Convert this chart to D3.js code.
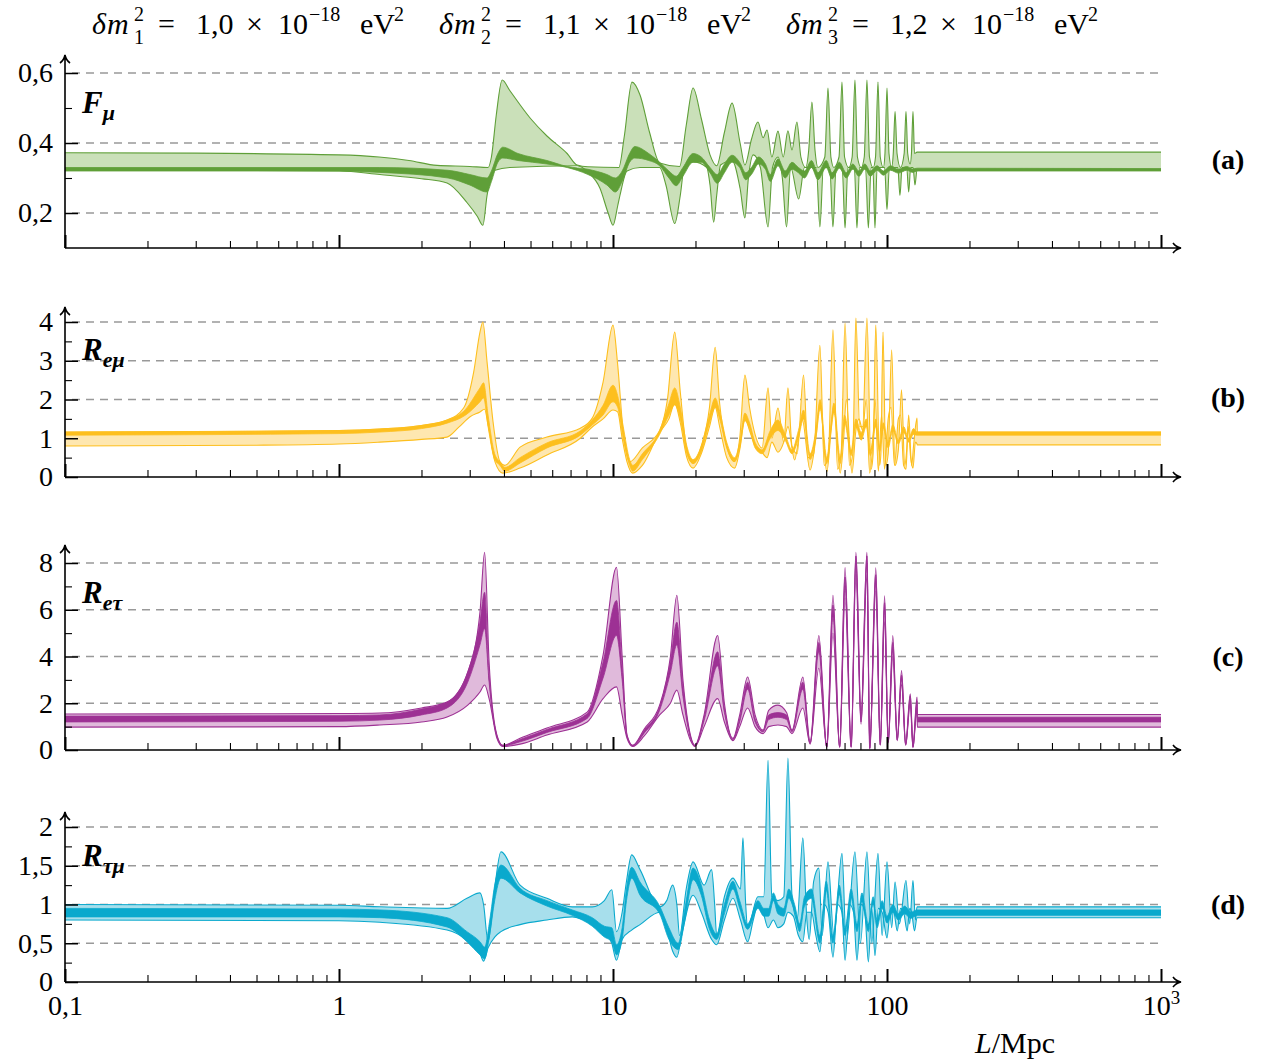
<!DOCTYPE html>
<html>
<head>
<meta charset="utf-8">
<script src="https://cdn.jsdelivr.net/npm/d3@7"></script>
<style>
  body { margin: 0; background: #fff; }
  text { font-family: 'Liberation Serif', 'Times New Roman', serif; fill: #000; }
</style>
</head>
<body>
<svg id="chart" width="1262" height="1064"></svg>
<script>
// x axis
var xMajor = [0.1, 1, 10, 100, 1000]
var xTickLabels = ['0,1', '1', '10', '100', '10']

// y ticks per panel
var aTicks = [0.2, 0.4, 0.6], aMinor = [0.3, 0.5]
var bTicks = [0, 1, 2, 3, 4], bMinor = [0.5, 1.5, 2.5, 3.5]
var cTicks = [0, 2, 4, 6, 8], cMinor = [1, 3, 5, 7]
var dTicks = [0, 0.5, 1, 1.5, 2], dMinor = [0.25, 0.75, 1.25, 1.75]

// (a) F_mu  [L in Mpc, value]
var aOutHi = [[0.1,0.372],[0.3,0.371],[1,0.366],[1.4,0.36],[1.8,0.35],[2.28,0.336],[3.0,0.333],[3.5,0.33],[3.6,0.36],[3.75,0.48],[3.94,0.58],[4.2,0.55],[5.0,0.47],[5.74,0.42],[6.8,0.37],[7.4,0.337],[8.1,0.332],[10.5,0.33],[11.0,0.42],[11.73,0.574],[12.55,0.537],[13.6,0.43],[14.8,0.343],[17.5,0.333],[18.5,0.45],[19.6,0.557],[21.0,0.47],[22.6,0.366],[23.9,0.335],[25.5,0.43],[27.2,0.514],[29.1,0.40],[30.3,0.337],[32.0,0.41],[33.8,0.46],[35.3,0.415],[36.5,0.437],[38.0,0.36],[40.0,0.434],[41.8,0.36],[43.5,0.435],[45.0,0.38],[46.9,0.46],[48.5,0.36],[50.5,0.33],[51.8,0.38],[53.2,0.517],[54.6,0.38],[56,0.33],[59.3,0.36],[60.9,0.557],[62.4,0.36],[64,0.33],[66.8,0.36],[68.5,0.574],[70,0.36],[72.5,0.33],[74.6,0.36],[76.4,0.58],[78,0.36],[80.5,0.33],[82.6,0.36],[84.5,0.58],[86.3,0.36],[89,0.33],[90.8,0.36],[92.7,0.574],[94.5,0.36],[97,0.33],[98.3,0.37],[100,0.557],[101.7,0.37],[104,0.33],[105.4,0.37],[107,0.49],[108.8,0.37],[112,0.33],[115.5,0.37],[117.3,0.49],[119,0.37],[121.5,0.34],[122.8,0.37],[124.4,0.49],[126,0.37],[128.7,0.374],[1000,0.374]]
var aOutLo = [[0.1,0.325],[1,0.32],[1.41,0.31],[2.0,0.298],[2.48,0.286],[2.93,0.23],[3.2,0.19],[3.35,0.165],[3.47,0.25],[3.6,0.31],[3.71,0.322],[4.2,0.33],[7.4,0.335],[8.1,0.317],[8.97,0.27],[9.6,0.2],[10.0,0.165],[10.4,0.22],[10.6,0.25],[11.25,0.32],[12.55,0.33],[14.8,0.33],[15.6,0.28],[16.8,0.17],[17.6,0.25],[18.2,0.33],[19.6,0.346],[22.0,0.33],[22.6,0.28],[23.3,0.174],[23.9,0.25],[24.7,0.337],[27.2,0.35],[29.1,0.27],[30.3,0.186],[31.2,0.3],[32.5,0.366],[34.5,0.33],[36.8,0.16],[38.2,0.33],[40,0.36],[41.5,0.3],[43.0,0.16],[44.5,0.33],[47.6,0.24],[50,0.33],[55.2,0.33],[56.9,0.16],[58.6,0.33],[61.8,0.33],[63.5,0.16],[65.2,0.33],[68.6,0.33],[70.3,0.157],[72,0.33],[76,0.33],[77.7,0.157],[79.4,0.33],[83.5,0.33],[85.5,0.157],[87.5,0.33],[88.8,0.33],[90.4,0.157],[92,0.33],[98,0.33],[100,0.21],[102,0.33],[109.5,0.33],[111.5,0.25],[113.5,0.33],[118,0.33],[120,0.26],[122,0.33],[124.5,0.33],[126.5,0.28],[128.7,0.323],[1000,0.323]]
var aInHi = [[0.1,0.33],[1,0.33],[1.41,0.33],[2.5,0.322],[3.0,0.31],[3.47,0.30],[3.6,0.32],[3.8,0.37],[3.96,0.388],[4.5,0.37],[5.74,0.35],[6.8,0.333],[8.1,0.325],[9.5,0.31],[10.2,0.30],[10.8,0.32],[11.5,0.37],[12.0,0.39],[13.5,0.37],[14.8,0.345],[16,0.32],[17,0.305],[18,0.33],[19.6,0.37],[21,0.36],[22.6,0.33],[24,0.31],[25.5,0.34],[27.2,0.365],[29,0.345],[30.5,0.315],[32,0.33],[34,0.36],[36,0.34],[37.5,0.31],[40,0.355],[42.5,0.32],[45,0.345],[47.5,0.33],[50,0.32],[53,0.35],[56,0.315],[60,0.35],[63,0.315],[67,0.345],[71,0.315],[75,0.34],[79,0.32],[83,0.34],[87,0.32],[92,0.335],[97,0.32],[103,0.335],[110,0.325],[118,0.333],[124,0.326],[128.7,0.328],[1000,0.327]]
var aInLo = [[0.1,0.32],[1,0.32],[1.41,0.316],[2.5,0.30],[3.0,0.28],[3.47,0.26],[3.6,0.29],[3.8,0.345],[3.96,0.357],[4.5,0.35],[5.74,0.34],[6.8,0.33],[8.1,0.31],[9.5,0.28],[10.2,0.26],[10.8,0.29],[11.5,0.345],[12.0,0.357],[13.5,0.35],[14.8,0.335],[16,0.30],[17,0.278],[18,0.305],[19.6,0.345],[21,0.345],[22.6,0.315],[24,0.285],[25.5,0.315],[27.2,0.345],[29,0.33],[30.5,0.295],[32,0.31],[34,0.34],[36,0.325],[37.5,0.29],[40,0.335],[42.5,0.30],[45,0.325],[47.5,0.315],[50,0.30],[53,0.33],[56,0.295],[60,0.33],[63,0.297],[67,0.328],[71,0.3],[75,0.325],[79,0.305],[83,0.325],[87,0.305],[92,0.322],[97,0.308],[103,0.322],[110,0.314],[118,0.322],[124,0.316],[128.7,0.32],[1000,0.32]]

// (b) R_emu
var bOutHi = [[0.1,1.16],[0.5,1.18],[1,1.2],[1.41,1.24],[2.0,1.33],[2.48,1.47],[2.85,1.78],[3.1,2.7],[3.27,3.74],[3.35,4.0],[3.47,2.97],[3.65,1.42],[3.87,0.39],[4.03,0.3],[4.58,0.77],[5.74,1.03],[7.6,1.26],[8.4,1.52],[9.2,2.45],[10.0,3.92],[10.4,2.9],[10.9,1.16],[11.5,0.39],[12.8,0.75],[14.8,1.2],[15.8,2.0],[16.8,3.74],[17.6,2.2],[18.5,0.8],[19.6,0.35],[21,0.8],[22.5,1.8],[23.6,3.35],[24.5,1.9],[26,0.8],[27.8,0.4],[29,1.0],[30.3,2.63],[31.5,1.8],[33,1.1],[35,0.75],[36.8,2.3],[38,1.0],[40,1.78],[42,0.9],[43.5,2.3],[45,0.8],[47,0.6],[49.6,2.63],[51.5,0.5],[54,0.6],[56.9,3.4],[59,0.3],[61,0.5],[63.5,3.8],[66,0.2],[68,0.6],[70.3,3.97],[73,0.3],[75,0.6],[77,4.1],[79.5,1.3],[81.5,1.3],[84.5,4.1],[87.5,0.2],[89,0.6],[91,3.92],[94,0.3],[95,0.6],[96.7,3.74],[99,0.3],[101,0.6],[104,3.28],[107,0.3],[110,0.7],[113,2.25],[116,0.3],[118,0.7],[120,1.6],[123,0.3],[125,0.8],[128.7,1.52],[129,1.16],[1000,1.16]]
var bOutLo = [[0.1,0.8],[0.5,0.82],[1,0.85],[1.41,0.9],[2.0,0.97],[2.48,1.03],[2.75,1.3],[3.0,1.55],[3.27,1.68],[3.4,1.75],[3.5,1.34],[3.71,0.39],[3.96,0.1],[4.58,0.23],[5.74,0.57],[7.6,1.0],[8.4,1.29],[9.2,1.5],[10.0,1.73],[10.4,1.68],[10.8,1.0],[11.25,0.39],[11.8,0.1],[12.8,0.3],[14.8,1.16],[16.0,1.5],[16.8,1.9],[17.6,1.4],[18.6,0.5],[19.6,0.23],[21,0.6],[22.5,1.3],[23.6,1.8],[24.5,1.3],[26,0.5],[27.8,0.23],[29,0.7],[30.3,1.5],[31.5,1.2],[33,0.8],[34.5,0.7],[36.5,0.5],[38,0.9],[40,0.64],[42,0.9],[43.5,1.3],[46,0.44],[49,1.5],[52.4,0.18],[55,1.0],[57,1.9],[60.3,0.13],[62.5,1.2],[64,1.9],[67.5,0.1],[69.5,1.0],[71,2.0],[74.5,0.1],[77,1.2],[79,1.5],[81.5,1.2],[84,2.0],[86.5,0.1],[89,1.0],[90.5,2.0],[93,0.15],[95.5,1.6],[98,0.2],[101,1.5],[103.5,1.8],[106.5,0.3],[110,1.5],[112,1.6],[115,0.3],[117.3,0.2],[119.5,1.3],[122,0.5],[124.4,0.23],[127,0.9],[128.7,0.85],[129,0.83],[1000,0.83]]
var bInHi = [[0.1,1.16],[1,1.2],[1.41,1.24],[2.0,1.33],[2.48,1.47],[2.9,1.75],[3.27,2.3],[3.37,2.43],[3.5,1.6],[3.7,0.6],[3.87,0.39],[4.03,0.25],[4.58,0.5],[5.74,0.88],[7.6,1.19],[8.4,1.47],[9.2,1.85],[10.0,2.37],[10.4,2.1],[10.9,1.3],[11.5,0.45],[11.8,0.3],[12.8,0.6],[14.8,1.2],[16.0,1.9],[16.8,2.3],[17.6,1.8],[18.6,0.8],[19.6,0.45],[21,0.8],[22.5,1.6],[23.6,2.04],[24.5,1.7],[26,0.9],[27.8,0.5],[29,0.9],[30.3,1.65],[31.5,1.4],[33,0.9],[35,0.7],[37.5,1.2],[40,1.47],[42.5,1.1],[45,0.7],[47.5,1.2],[49.6,1.73],[52.4,0.6],[55,1.2],[57,2.0],[60.3,0.5],[62.5,1.4],[64,1.9],[67.5,0.5],[70,1.6],[74,0.7],[77,1.5],[80.5,1.15],[84,1.5],[87,0.7],[91,1.5],[94,0.8],[97,1.4],[101,0.9],[105,1.35],[110,0.95],[115,1.3],[120,1.0],[125,1.25],[128.7,1.16],[1000,1.16]]
var bInLo = [[0.1,1.08],[1,1.12],[1.41,1.16],[2.0,1.25],[2.48,1.39],[2.9,1.6],[3.27,1.94],[3.37,2.04],[3.5,1.3],[3.7,0.45],[3.87,0.3],[4.03,0.15],[4.58,0.36],[5.74,0.75],[7.6,1.08],[8.4,1.34],[9.2,1.6],[10.0,1.94],[10.4,1.8],[10.9,1.0],[11.5,0.3],[11.8,0.15],[12.8,0.45],[14.8,1.1],[16.0,1.6],[16.8,1.86],[17.6,1.5],[18.6,0.6],[19.6,0.35],[21,0.65],[22.5,1.4],[23.6,1.8],[24.5,1.5],[26,0.75],[27.8,0.4],[29,0.75],[30.3,1.45],[31.5,1.25],[33,0.75],[35,0.6],[37.5,1.0],[40,1.2],[42.5,0.95],[45,0.6],[47.5,1.0],[49.6,1.5],[52.4,0.45],[55,1.0],[57,1.75],[60.3,0.35],[62.5,1.2],[64,1.65],[67.5,0.35],[70,1.4],[74,0.55],[77,1.3],[80.5,0.95],[84,1.3],[87,0.55],[91,1.3],[94,0.65],[97,1.25],[101,0.75],[105,1.2],[110,0.85],[115,1.15],[120,0.9],[125,1.1],[128.7,1.08],[1000,1.08]]

// (c) R_etau
var cOutHi = [[0.1,1.54],[0.5,1.55],[1,1.56],[1.41,1.58],[2.0,1.8],[2.48,2.05],[2.95,3.33],[3.27,5.9],[3.4,8.46],[3.53,3.76],[3.77,0.64],[3.96,0.2],[4.58,0.5],[5.74,0.94],[8.05,1.62],[9.2,4.06],[10.3,7.82],[10.8,4.0],[11.25,0.64],[11.8,0.2],[13,0.9],[14.8,1.92],[16.2,4.0],[17.1,6.62],[18,3.0],[19.2,0.6],[19.9,0.2],[21.5,1.5],[24.1,4.9],[25.5,2.0],[27.4,0.5],[29,1.5],[31,3.12],[33,1.5],[35.3,0.85],[37,1.7],[40,1.92],[43,1.6],[45,0.85],[49.3,3.12],[52.4,0.34],[56.4,4.9],[60.3,0.2],[63.5,6.62],[67.2,0.2],[70.3,7.8],[74,0.2],[77,8.46],[80.4,1.5],[84.5,8.46],[86.5,0.1],[91,7.8],[94.5,0.3],[98,6.6],[101,0.4],[105,4.9],[109,0.5],[113,3.4],[117,0.3],[121.6,2.4],[124.4,0.2],[128.7,2.27],[129,1.52],[1000,1.52]]
var cOutLo = [[0.1,0.98],[1,1.0],[1.41,1.07],[2.0,1.2],[2.48,1.41],[2.95,1.92],[3.27,2.48],[3.4,2.78],[3.53,2.2],[3.77,0.5],[3.96,0.15],[4.58,0.25],[5.74,0.64],[8.05,1.2],[9.2,2.2],[10.3,2.7],[10.8,1.5],[11.25,0.5],[11.8,0.15],[13,0.6],[14.8,1.5],[16.2,2.0],[17.1,2.56],[18,1.5],[19.2,0.4],[19.9,0.15],[21.5,1.0],[24.1,2.2],[25.5,1.2],[27.4,0.4],[29,1.0],[31,1.8],[33,1.0],[35.3,0.7],[37,1.0],[40,1.07],[43,1.0],[45,0.7],[49.3,1.8],[52.4,0.25],[56.4,3.5],[60.3,0.1],[63.5,5.0],[67.2,0.1],[70.3,6.5],[74,0.1],[77,7.5],[80.4,1.1],[84.5,7.5],[86.5,0.05],[91,6.8],[94.5,0.2],[98,5.5],[101,0.3],[105,4.0],[109,0.4],[113,2.8],[117,0.2],[121.6,2.0],[124.4,0.1],[128.7,1.8],[129,0.98],[1000,0.98]]
var cInHi = [[0.1,1.45],[1,1.47],[1.41,1.5],[2.0,1.75],[2.48,2.05],[2.95,3.33],[3.27,5.47],[3.4,6.75],[3.53,3.2],[3.77,0.62],[3.96,0.2],[4.58,0.45],[5.74,0.88],[8.05,1.55],[9.2,3.76],[10.3,6.4],[10.8,3.5],[11.25,0.62],[11.8,0.2],[13,0.85],[14.8,1.85],[16.2,3.8],[17.1,5.47],[18,2.7],[19.2,0.55],[19.9,0.2],[21.5,1.4],[24.1,4.2],[25.5,1.8],[27.4,0.47],[29,1.35],[31,2.9],[33,1.35],[35.3,0.82],[37,1.5],[40,1.6],[43,1.5],[45,0.82],[49.3,2.9],[52.4,0.3],[56.4,4.6],[60.3,0.15],[63.5,6.2],[67.2,0.15],[70.3,7.4],[74,0.15],[77,8.3],[80.4,1.35],[84.5,8.3],[86.5,0.08],[91,7.5],[94.5,0.25],[98,6.3],[101,0.35],[105,4.6],[109,0.45],[113,3.2],[117,0.25],[121.6,2.3],[124.4,0.15],[128.7,2.1],[129,1.4],[1000,1.4]]
var cInLo = [[0.1,1.2],[1,1.23],[1.41,1.28],[2.0,1.5],[2.48,1.8],[2.95,2.9],[3.27,4.5],[3.4,5.2],[3.53,2.9],[3.77,0.58],[3.96,0.17],[4.58,0.35],[5.74,0.75],[8.05,1.35],[9.2,3.08],[10.3,4.9],[10.8,3.0],[11.25,0.58],[11.8,0.17],[13,0.72],[14.8,1.7],[16.2,3.3],[17.1,4.5],[18,2.3],[19.2,0.5],[19.9,0.17],[21.5,1.25],[24.1,3.6],[25.5,1.6],[27.4,0.45],[29,1.2],[31,2.6],[33,1.2],[35.3,0.78],[37,1.3],[40,1.4],[43,1.3],[45,0.78],[49.3,2.6],[52.4,0.28],[56.4,4.2],[60.3,0.13],[63.5,5.7],[67.2,0.13],[70.3,7.0],[74,0.13],[77,8.0],[80.4,1.2],[84.5,8.0],[86.5,0.06],[91,7.1],[94.5,0.22],[98,6.0],[101,0.33],[105,4.3],[109,0.43],[113,3.0],[117,0.22],[121.6,2.15],[124.4,0.12],[128.7,1.95],[129,1.2],[1000,1.2]]

// (d) R_taumu
var dOutHi = [[0.1,1.0],[1,0.99],[1.41,0.97],[2.48,0.95],[2.93,1.08],[3.27,1.15],[3.37,1.0],[3.5,0.52],[3.7,1.21],[3.9,1.68],[4.58,1.25],[5.74,1.08],[7.1,0.97],[8.4,0.97],[9.3,1.05],[9.9,1.19],[10.3,0.65],[10.8,0.9],[11.2,1.3],[11.7,1.64],[12.55,1.45],[14.8,0.97],[15.7,1.05],[16.5,1.25],[17.1,1.0],[17.5,0.6],[18.5,1.2],[19.6,1.55],[21.5,1.25],[22.9,1.45],[23.5,1.0],[23.9,0.6],[25.5,1.1],[27.4,1.34],[29.2,1.2],[29.8,1.86],[30.5,1.0],[31,0.7],[33.8,1.1],[35.5,1.1],[36.8,2.86],[38,1.1],[40,1.05],[42,1.1],[43.5,2.89],[45,1.12],[47,0.8],[49.3,1.86],[51,0.8],[52,0.55],[54,1.3],[56.4,1.47],[58,0.6],[60.9,1.55],[64,0.6],[68.5,1.66],[71,0.5],[76.4,1.68],[80,0.5],[84.5,1.68],[88,0.5],[92.7,1.66],[96,0.6],[100,1.55],[104,0.7],[107,1.29],[111,0.75],[117.3,1.31],[121,0.75],[124.4,1.31],[127,0.8],[128.7,0.97],[1000,0.97]]
var dOutLo = [[0.1,0.8],[1,0.79],[1.41,0.77],[2.48,0.67],[2.93,0.54],[3.27,0.37],[3.37,0.27],[3.5,0.44],[3.7,0.58],[3.9,0.65],[4.58,0.74],[5.74,0.8],[7.1,0.84],[8.4,0.75],[9.3,0.65],[9.9,0.5],[10.3,0.28],[10.8,0.55],[11.7,0.67],[12.55,0.74],[14.8,0.9],[15.7,0.7],[16.5,0.4],[17.1,0.32],[17.8,0.6],[19.6,1.12],[21,0.9],[22.9,0.55],[23.9,0.48],[25.5,0.8],[27.4,1.08],[29.2,0.8],[31,0.52],[32.5,0.8],[33.8,1.0],[35.3,0.9],[36.8,0.7],[38.5,0.8],[40,0.7],[42,0.75],[43.5,0.9],[45.5,0.85],[47.5,0.6],[49.3,0.52],[51,0.9],[53,0.9],[55,0.6],[56.9,0.39],[59,1.0],[61,0.9],[63.5,0.32],[66,1.0],[68.5,0.9],[70.3,0.28],[73,1.0],[75.5,0.9],[77.7,0.28],[80.5,1.0],[83,0.9],[85.5,0.26],[88,0.95],[90.4,0.34],[93,0.95],[96,0.9],[100,0.57],[103,0.95],[106,0.9],[109,0.66],[112,0.95],[115,0.9],[118.5,0.66],[121,0.95],[123,0.9],[126,0.66],[128.7,0.83],[1000,0.83]]
var dInHi = [[0.1,0.95],[1,0.94],[1.41,0.93],[2.48,0.83],[2.93,0.65],[3.27,0.52],[3.4,0.45],[3.55,0.8],[3.7,1.25],[3.9,1.51],[4.58,1.21],[5.74,1.05],[7.1,0.93],[8.4,0.83],[9.3,0.72],[9.9,0.7],[10.3,0.48],[10.8,0.7],[11.2,1.2],[11.7,1.48],[12.55,1.29],[14.8,0.98],[16,0.7],[17.3,0.5],[18.3,0.95],[19.6,1.47],[21,1.25],[22.5,0.8],[23.9,0.62],[25.5,1.0],[27.4,1.3],[29,1.05],[31,0.75],[33.8,1.05],[35.5,0.95],[37,0.95],[38.5,1.15],[40,1.0],[42,0.95],[43.8,1.2],[46,1.0],[48,0.75],[50,1.1],[53,1.2],[56.9,0.6],[60,1.3],[63.5,0.6],[67,1.25],[70.3,0.7],[74,1.2],[77.7,0.75],[81,1.15],[85.5,0.75],[89,1.1],[92,0.8],[96,1.05],[100,0.85],[105,1.0],[110,0.88],[116,0.98],[122,0.9],[128.7,0.93],[1000,0.93]]
var dInLo = [[0.1,0.84],[1,0.84],[1.41,0.83],[2.48,0.71],[2.93,0.52],[3.27,0.35],[3.4,0.3],[3.55,0.62],[3.7,1.05],[3.9,1.34],[4.58,1.15],[5.74,0.98],[7.1,0.86],[8.4,0.72],[9.3,0.58],[9.9,0.52],[10.3,0.35],[10.8,0.55],[11.2,1.05],[11.7,1.34],[12.55,1.12],[14.8,0.88],[16,0.55],[17.3,0.42],[18.3,0.8],[19.6,1.32],[21,1.12],[22.5,0.68],[23.9,0.55],[25.5,0.88],[27.4,1.2],[29,0.95],[31,0.68],[33.8,0.95],[35.5,0.85],[37,0.85],[38.5,1.05],[40,0.88],[42,0.85],[43.8,1.08],[46,0.9],[48,0.65],[50,0.98],[53,1.08],[56.9,0.5],[60,1.18],[63.5,0.5],[67,1.13],[70.3,0.6],[74,1.08],[77.7,0.65],[81,1.03],[85.5,0.65],[89,1.0],[92,0.7],[96,0.95],[100,0.76],[105,0.9],[110,0.8],[116,0.88],[122,0.82],[128.7,0.86],[1000,0.86]]

var svg = d3.select('#chart')
var x = d3.scaleLog().domain([0.1, 1000]).range([65, 1161])
var fmt = function(v) { return String(v).replace('.', ',') }

var panels = [
  {outHi: aOutHi, outLo: aOutLo, inHi: aInHi, inLo: aInLo, ticks: aTicks, minor: aMinor,
   domain: [0.1, 0.6], range: [248, 73], top: 57, line: '#5f9f38', fill: '#cae0b9',
   name: 'F', sub: 'μ', nameY: 113, tag: '(a)', tagY: 169},
  {outHi: bOutHi, outLo: bOutLo, inHi: bInHi, inLo: bInLo, ticks: bTicks, minor: bMinor,
   domain: [0, 4], range: [477, 322], top: 309, line: '#fdbf1e', fill: '#fee7b0',
   name: 'R', sub: 'eμ', nameY: 360, tag: '(b)', tagY: 407},
  {outHi: cOutHi, outLo: cOutLo, inHi: cInHi, inLo: cInLo, ticks: cTicks, minor: cMinor,
   domain: [0, 8], range: [750, 563], top: 547, line: '#9d3194', fill: '#e0badb',
   name: 'R', sub: 'eτ', nameY: 603, tag: '(c)', tagY: 666},
  {outHi: dOutHi, outLo: dOutLo, inHi: dInHi, inLo: dInLo, ticks: dTicks, minor: dMinor,
   domain: [0, 2], range: [982, 827], top: 814, line: '#0aa9cd', fill: '#a7dfec',
   name: 'R', sub: 'τμ', nameY: 866, tag: '(d)', tagY: 914}
]

function bandPath(hi, lo, line) {
  var top = line(hi)
  var bottom = line(lo.slice().reverse())
  return top + 'L' + bottom.slice(1) + 'Z'
}

function styleAxis(g, size) {
  g.select('.domain').remove()
  g.selectAll('.tick line').attr('stroke', '#000')
  g.selectAll('.tick text')
   .attr('font-family', "'Liberation Serif', serif")
   .attr('font-size', size)
   .attr('fill', '#000')
}

panels.forEach(function(p, i) {
  var y = d3.scaleLinear().domain(p.domain).range(p.range)
  var y0 = p.range[0]
  var g = svg.append('g')

  // dashed grid
  g.selectAll('line.grid')
   .data(p.ticks.filter(function(t) { return t !== p.domain[0] }))
   .enter().append('line')
   .attr('x1', 72).attr('x2', 1161)
   .attr('y1', function(d) { return y(d) }).attr('y2', function(d) { return y(d) })
   .attr('stroke', '#999').attr('stroke-width', 1.3).attr('stroke-dasharray', '8,6')

  // clip only left/right and bottom, peaks may pass the axis top
  g.append('clipPath').attr('id', 'clip' + i)
   .append('rect').attr('x', 65).attr('y', p.top - 80).attr('width', 1096).attr('height', y0 - p.top + 80)

  var line = d3.line()
               .x(function(d) { return x(d[0]) })
               .y(function(d) { return y(d[1]) })
               .curve(d3.curveMonotoneX)

  var marks = g.append('g').attr('clip-path', 'url(#clip' + i + ')')
  marks.append('path')
       .attr('d', bandPath(p.outHi, p.outLo, line))
       .attr('fill', p.fill)
  marks.selectAll('path.edge')
       .data([p.outHi, p.outLo])
       .enter().append('path')
       .attr('d', line)
       .attr('fill', 'none')
       .attr('stroke', p.line)
       .attr('stroke-width', 1.1)
  marks.append('path')
       .attr('d', bandPath(p.inHi, p.inLo, line))
       .attr('fill', p.line)
       .attr('stroke', p.line)
       .attr('stroke-width', 0.8)

  // x axis ticks
  var minorX = x.ticks().filter(function(t) { return xMajor.indexOf(t) < 0 })
  var gx1 = g.append('g').attr('transform', 'translate(0,' + y0 + ')')
             .call(d3.axisBottom(x).tickValues(minorX).tickSizeInner(-7).tickSizeOuter(0).tickFormat(''))
  styleAxis(gx1, 25)
  gx1.selectAll('.tick line').attr('stroke-width', 1.1)
  var last = i === panels.length - 1
  var gx2 = g.append('g').attr('transform', 'translate(0,' + y0 + ')')
             .call(d3.axisBottom(x).tickValues(xMajor).tickSizeInner(-13).tickSizeOuter(0).tickPadding(13)
                   .tickFormat(function(d, k) { return last ? xTickLabels[k] : '' }))
  styleAxis(gx2, 28)
  gx2.selectAll('.tick line').attr('stroke-width', 2)
  if (last) {
    gx2.selectAll('.tick text').filter(function(d) { return d === 1000 })
       .append('tspan').attr('dy', -11).attr('font-size', 19).text('3')
  }

  // y axis ticks
  var gy1 = g.append('g').attr('transform', 'translate(65,0)')
             .call(d3.axisLeft(y).tickValues(p.minor).tickSizeInner(-7).tickSizeOuter(0).tickFormat(''))
  styleAxis(gy1, 25)
  gy1.selectAll('.tick line').attr('stroke-width', 1.1)
  var gy2 = g.append('g').attr('transform', 'translate(65,0)')
             .call(d3.axisLeft(y).tickValues(p.ticks).tickSizeInner(-13).tickSizeOuter(0).tickPadding(12).tickFormat(fmt))
  styleAxis(gy2, 28)
  gy2.selectAll('.tick line').attr('stroke-width', 1.5)

  // axis lines with arrows
  g.append('path')
   .attr('d', 'M65,' + y0 + 'H1180 M1173,' + (y0 - 5) + 'Q1176,' + (y0 - 1) + ' 1181,' + y0 + 'Q1176,' + (y0 + 1) + ' 1173,' + (y0 + 5))
   .attr('fill', 'none').attr('stroke', '#000').attr('stroke-width', 1.6)
  g.append('path')
   .attr('d', 'M65,' + y0 + 'V' + (p.top - 1) + 'M60,' + (p.top + 6) + 'Q64,' + (p.top + 3) + ' 65,' + (p.top - 2) + 'Q66,' + (p.top + 3) + ' 70,' + (p.top + 6))
   .attr('fill', 'none').attr('stroke', '#000').attr('stroke-width', 1.6)

  // panel name
  var nm = g.append('text').attr('x', 82).attr('y', p.nameY)
            .attr('font-size', 31).attr('font-weight', 'bold').attr('font-style', 'italic')
  nm.append('tspan').text(p.name)
  nm.append('tspan').attr('dy', 7).attr('font-size', 22).text(p.sub)

  g.append('text').attr('x', 1228).attr('y', p.tagY)
   .attr('text-anchor', 'middle').attr('font-size', 28).attr('font-weight', 'bold')
   .text(p.tag)
})

// title
var titleX = [92, 439, 786]
var titleIdx = ['1', '2', '3']
var titleVal = ['1,0', '1,1', '1,2']
titleX.forEach(function(x0, k) {
  var t = svg.append('text').attr('font-size', 30)
  var parts = [
    [0, 34, 'δ', 'italic', 30],
    [15, 34, 'm', 'italic', 30],
    [42, 21, '2', 'normal', 20],
    [42, 44, titleIdx[k], 'normal', 20],
    [66, 34, '=', 'normal', 30],
    [104, 34, titleVal[k], 'normal', 30],
    [154, 34, '×', 'normal', 30],
    [186, 34, '10', 'normal', 30],
    [217, 21, '−18', 'normal', 20],
    [268, 34, 'eV', 'normal', 30],
    [302, 21, '2', 'normal', 20]
  ]
  parts.forEach(function(s) {
    t.append('tspan').attr('x', x0 + s[0]).attr('y', s[1])
     .attr('font-style', s[3]).attr('font-size', s[4]).text(s[2])
  })
})

// x label
var xl = svg.append('text').attr('x', 975).attr('y', 1053).attr('font-size', 30)
xl.append('tspan').attr('font-style', 'italic').text('L')
xl.append('tspan').text('/Mpc')
</script>
</body>
</html>
